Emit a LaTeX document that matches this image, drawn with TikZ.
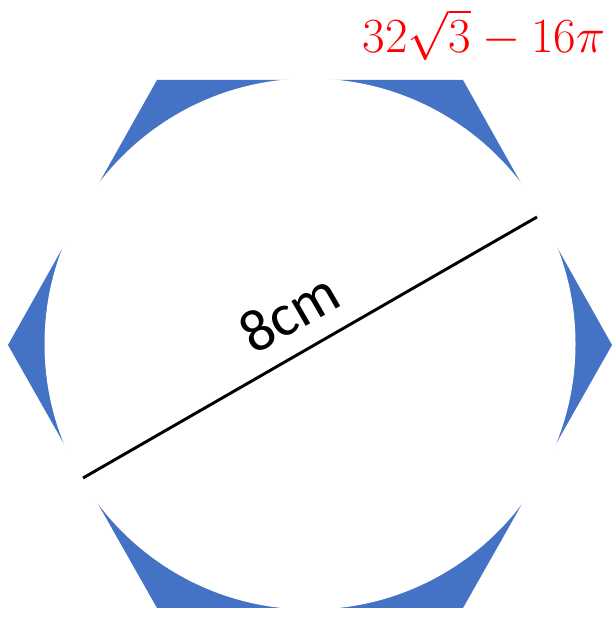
\documentclass[tikz,border=0pt]{standalone}
\usepackage{fontspec}
\newfontfamily\carlito{Carlito}
\definecolor{hexblue}{HTML}{4472C4}
\tikzset{
  hexfill/.style={fill=hexblue, draw=none},
  holefill/.style={fill=white, draw=none},
  diam/.style={draw=black, line width=2.2pt},
  dimlabel/.style={font=\carlito\fontsize{45}{50}\selectfont, inner sep=0pt},
  answer/.style={text=red, font=\fontsize{24.88}{30}\selectfont, inner sep=0pt}
}
\begin{document}
\begin{tikzpicture}[x=0.75pt,y=0.75pt]
\useasboundingbox (0,0) rectangle (615,620);
\coordinate (O) at (310,276);
\fill[hexfill] (8,275) -- (157,540) -- (463,540) -- (612,275) -- (463,12) -- (157,12) -- cycle;
\fill[holefill] (O) circle (265.5);
\coordinate (A) at (83,142);
\coordinate (B) at (537,403);
\draw[diam] (A) -- (B);
\node[dimlabel, rotate=30, anchor=base] (lab) at (299,290) {8cm};
\node[answer, anchor=base] (ans) at (484,567) {\scalebox{1.48}{$32\sqrt{3}-16\pi$}};
\end{tikzpicture}
\end{document}
